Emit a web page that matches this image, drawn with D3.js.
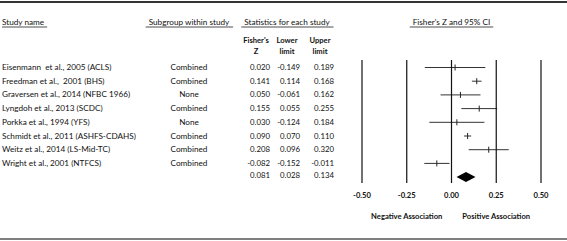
<!DOCTYPE html>
<html>
<head>
<meta charset="utf-8">
<script src="https://cdn.jsdelivr.net/npm/d3@7"></script>
<style>
  body { margin: 0; background: #fff; }
  text { font-family: Lato, "Open Sans", sans-serif; fill: #111; white-space: pre; }
</style>
</head>
<body>
<div id="chart"></div>
<script>
// Study data
const studies = [
  "Eisenmann  et al., 2005 (ACLS)",
  "Freedman et al.,  2001 (BHS)",
  "Graversen et al., 2014 (NFBC 1966)",
  "Lyngdoh et al., 2013 (SCDC)",
  "Porkka et al., 1994 (YFS)",
  "Schmidt et al., 2011 (ASHFS-CDAHS)",
  "Weitz et al., 2014 (LS-Mid-TC)",
  "Wright et al., 2001 (NTFCS)"
];
const subgroups = ["Combined", "Combined", "None", "Combined", "None", "Combined", "Combined", "Combined"];
const fisherZ = [0.020, 0.141, 0.050, 0.155, 0.030, 0.090, 0.208, -0.082];
const lowerLimit = [-0.149, 0.114, -0.061, 0.055, -0.124, 0.070, 0.096, -0.152];
const upperLimit = [0.189, 0.168, 0.162, 0.255, 0.184, 0.110, 0.320, -0.011];
const summary = { z: 0.081, lower: 0.028, upper: 0.134 };
const tickValues = [-0.5, -0.25, 0, 0.25, 0.5];

const width = 567, height = 241;
const fs = 8.2;
const numFs = 7.8;

const svg = d3.select("#chart")
    .append("svg")
    .attr("width", width)
    .attr("height", height);

const x = d3.scaleLinear().domain([-0.5, 0.5]).range([362, 541]);
const y = d3.scaleLinear().domain([0, 8]).range([67.5, 177.1]);
const loc = d3.formatLocale({ decimal: ".", thousands: ",", grouping: [3], currency: ["", ""], minus: "-" });
const fmt = loc.format(".3f");

// top and bottom rules
svg.append("line").attr("x1", 0).attr("x2", width).attr("y1", 2).attr("y2", 2)
    .attr("stroke", "#333").attr("stroke-width", 2);
svg.append("line").attr("x1", 0).attr("x2", width).attr("y1", 239).attr("y2", 239)
    .attr("stroke", "#555").attr("stroke-width", 1.5);

// underlined column headers
function header(txt, cx, anchor) {
  const t = svg.append("text").attr("x", cx).attr("y", 24.5)
      .attr("text-anchor", anchor).attr("font-size", fs).text(txt);
  const b = t.node().getBBox();
  return svg.append("line").attr("x1", b.x - 3).attr("x2", b.x + b.width + 3)
      .attr("y1", 27).attr("y2", 27).attr("stroke", "#222").attr("stroke-width", 0.8);
}
header("Study name", 2, "start").attr("x1", 2);
header("Subgroup within study", 189, "middle");
header("Statistics for each study", 287, "middle");
header("Fisher's Z and 95% CI", x(0), "middle");

// stats column headers
const statCols = [
  { right: 270, center: 256, l1: "Fisher's", l2: "Z" },
  { right: 300, center: 287, l1: "Lower", l2: "limit" },
  { right: 334, center: 320, l1: "Upper", l2: "limit" }
];
statCols.forEach(c => {
  svg.append("text").attr("x", c.center).attr("y", 43).attr("text-anchor", "middle")
      .attr("font-size", 7.6).attr("font-weight", "bold").text(c.l1);
  svg.append("text").attr("x", c.center).attr("y", 54).attr("text-anchor", "middle")
      .attr("font-size", 7.6).attr("font-weight", "bold").text(c.l2);
});

// table rows
const rows = svg.append("g").selectAll("g")
    .data(studies.map((s, i) => ({ s, sub: subgroups[i], z: fisherZ[i], lo: lowerLimit[i], hi: upperLimit[i], i })))
    .join("g");

rows.append("text").attr("x", 2).attr("y", d => y(d.i) + 2.5)
    .attr("font-size", fs).text(d => d.s);
rows.append("text").attr("x", 189).attr("y", d => y(d.i) + 2.5)
    .attr("text-anchor", "middle").attr("font-size", fs).text(d => d.sub);
[["z", 0], ["lo", 1], ["hi", 2]].forEach(([k, j]) => {
  rows.append("text").attr("x", statCols[j].right).attr("y", d => y(d.i) + 2.5)
      .attr("text-anchor", "end").attr("font-size", numFs).text(d => fmt(d[k]));
});
[summary.z, summary.lower, summary.upper].forEach((v, j) => {
  svg.append("text").attr("x", statCols[j].right).attr("y", y(8) + 1)
      .attr("text-anchor", "end").attr("font-size", numFs).text(fmt(v));
});

// reference lines
svg.append("g").selectAll("line").data(tickValues).join("line")
    .attr("x1", d => x(d)).attr("x2", d => x(d))
    .attr("y1", 60).attr("y2", 183)
    .attr("stroke", "#111").attr("stroke-width", 1.2);

// confidence intervals
rows.append("line")
    .attr("x1", d => x(d.lo)).attr("x2", d => x(d.hi))
    .attr("y1", d => y(d.i)).attr("y2", d => y(d.i))
    .attr("stroke", "#333").attr("stroke-width", 1);
rows.append("line")
    .attr("x1", d => x(d.z)).attr("x2", d => x(d.z))
    .attr("y1", d => y(d.i) - 3).attr("y2", d => y(d.i) + 3)
    .attr("stroke", "#222").attr("stroke-width", 1);

// summary diamond
const sy = y(8);
svg.append("path")
    .attr("d", `M${x(summary.lower)},${sy} L${x(summary.z)},${sy - 5} L${x(summary.upper)},${sy} L${x(summary.z)},${sy + 5} Z`)
    .attr("fill", "#000");

// axis labels
svg.append("g").selectAll("text").data(tickValues).join("text")
    .attr("x", d => x(d)).attr("y", 198)
    .attr("text-anchor", "middle").attr("font-size", 7.6).attr("font-weight", "bold")
    .text(d => loc.format(".2f")(d));

svg.append("text").attr("x", x(-0.25)).attr("y", 219).attr("text-anchor", "middle")
    .attr("font-size", 7.6).attr("font-weight", "bold").text("Negative Association");
svg.append("text").attr("x", x(0.25)).attr("y", 219).attr("text-anchor", "middle")
    .attr("font-size", 7.6).attr("font-weight", "bold").text("Positive Association");
</script>
</body>
</html>
